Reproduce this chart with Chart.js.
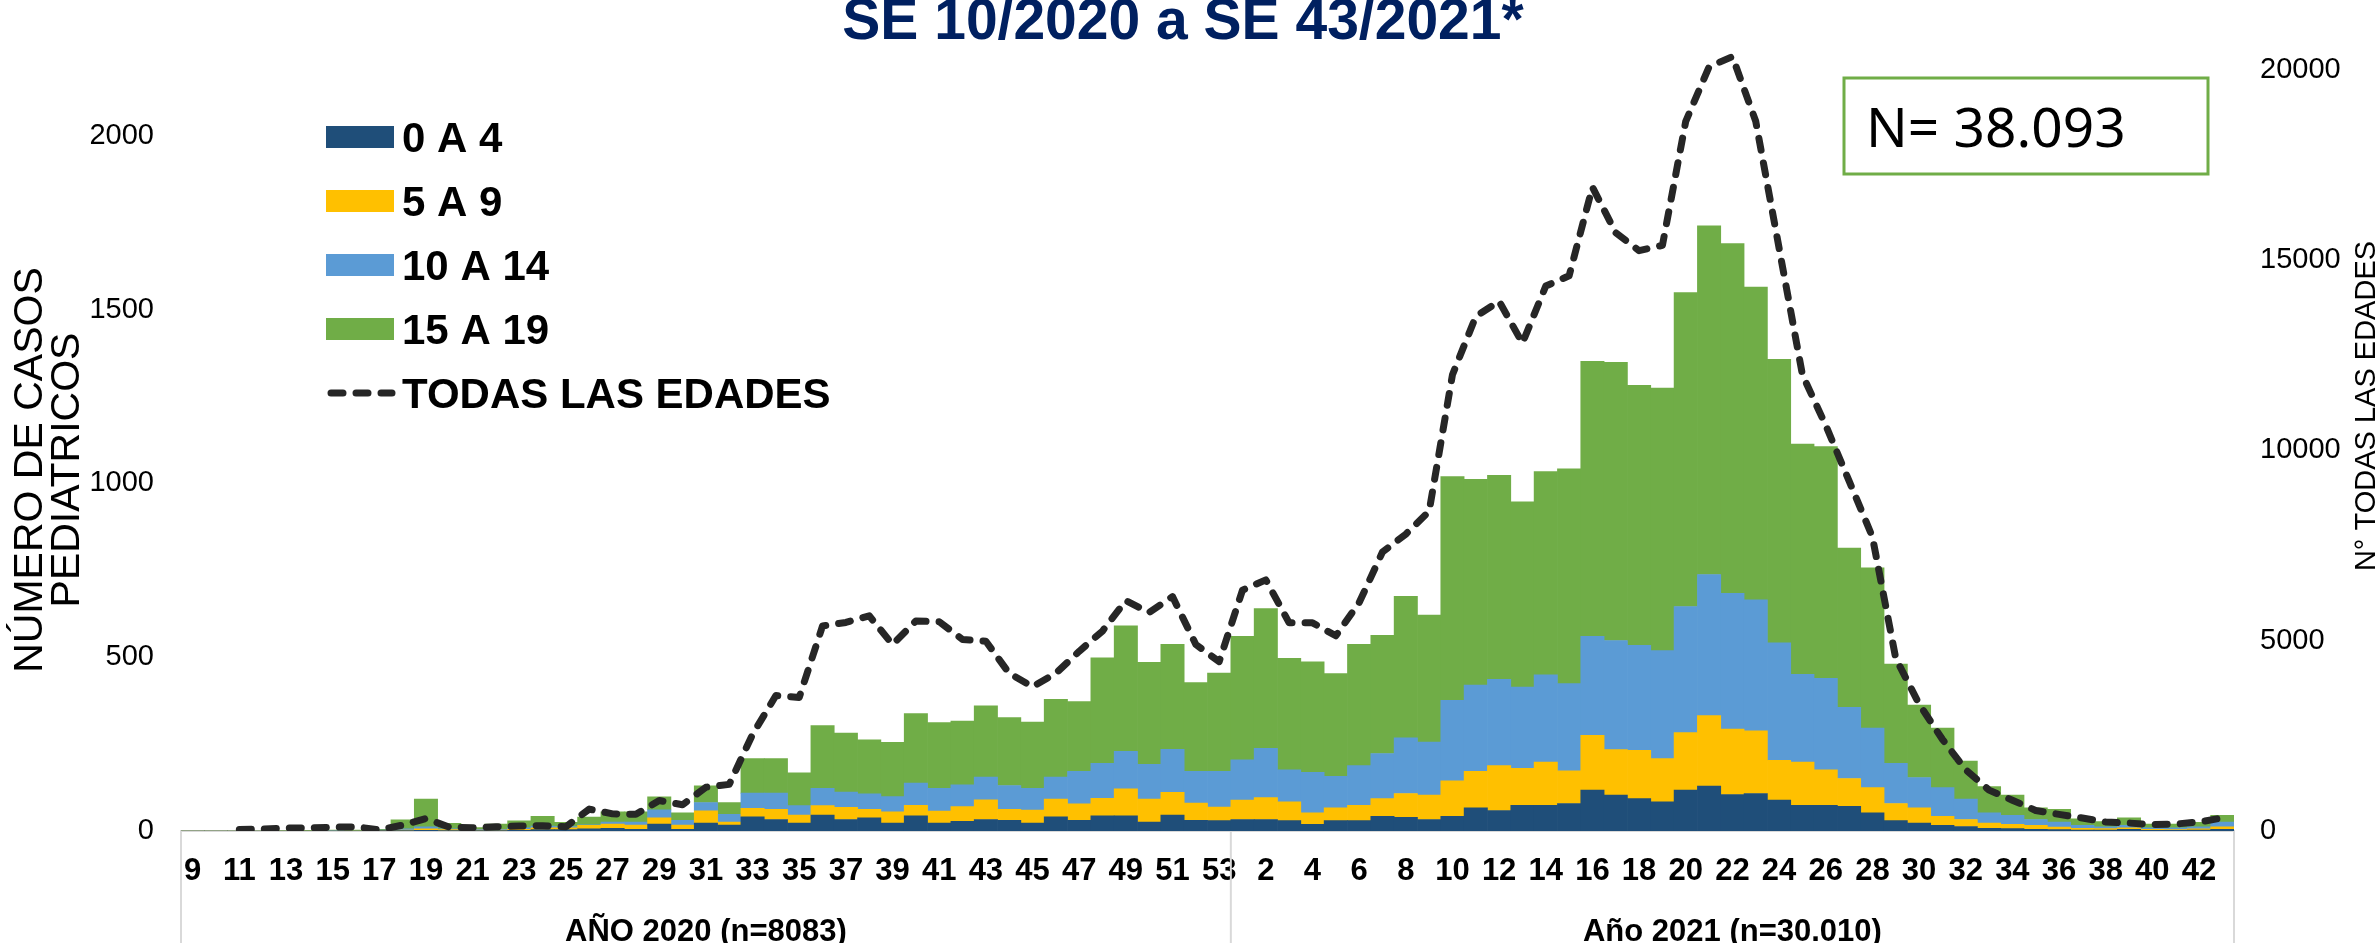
<!DOCTYPE html>
<html><head><meta charset="utf-8">
<script src="https://cdn.jsdelivr.net/npm/chart.js@4.4.1/dist/chart.umd.min.js"></script>
<style>html,body{margin:0;padding:0;background:#fff;overflow:hidden}canvas{display:block}</style>
</head><body>
<canvas id="c" width="2377" height="943" style="width:2377px;height:943px"></canvas>
<script>
const weeks = ['9','10','11','12','13','14','15','16','17','18','19','20','21','22','23','24','25','26','27','28','29','30','31','32','33','34','35','36','37','38','39','40','41','42','43','44','45','46','47','48','49','50','51','52','53',
  '1','2','3','4','5','6','7','8','9','10','11','12','13','14','15','16','17','18','19','20','21','22','23','24','25','26','27','28','29','30','31','32','33','34','35','36','37','38','39','40','41','42','43'];
const groupNames = ['AÑO 2020 (n=8083)', 'Año 2021 (n=30.010)'];
const groupSizes = [45, 43];

const age0_4 = [0,0,0,0,0,0,0,0,1,1,2,1,1,1,2,4,4,6,8,5,20,5,23,17,41,33,23,46,33,38,23,44,23,28,33,31,23,41,31,44,44,26,46,31,30,
  33,33,30,19,30,30,42,39,33,42,67,59,74,74,79,118,103,93,84,118,129,105,108,89,74,74,71,52,30,23,16,13,8,7,5,4,3,3,5,2,2,3,5];
const age5_9 = [0,0,0,0,0,0,0,0,1,2,4,3,2,2,3,5,5,10,12,12,18,12,35,9,24,29,23,27,35,24,32,30,34,42,57,31,37,51,47,50,77,66,65,49,39,
  56,63,54,33,37,44,51,69,70,102,105,129,106,124,94,157,131,139,124,165,203,188,180,114,124,102,80,73,49,44,26,20,15,12,11,7,5,4,4,3,2,3,7];
const age10_14 = [0,0,0,0,0,0,1,0,1,3,6,2,2,2,4,5,4,2,6,9,23,14,24,22,44,47,27,50,44,45,44,64,66,63,65,69,63,63,94,101,108,100,124,92,103,
  116,142,92,117,90,114,130,160,153,232,248,248,234,251,251,285,314,302,311,363,406,391,377,338,253,263,205,171,116,87,83,59,29,26,17,15,8,5,7,4,5,6,14];
const age15_19 = [0,0,0,0,1,2,2,3,2,26,80,16,5,15,20,28,12,22,29,29,37,21,48,34,99,99,94,180,170,155,156,200,189,183,205,195,190,224,200,303,361,293,302,255,282,
  355,402,321,318,296,349,340,407,365,644,592,587,533,585,618,791,800,748,755,903,1003,1006,900,816,662,667,458,461,285,208,171,109,76,58,34,36,19,15,22,11,11,13,19];
const todasEdades = [null,null,40,50,80,80,100,110,30,155,326,100,86,112,129,140,112,575,450,440,800,690,1150,1225,2540,3560,3510,5390,5480,5655,4900,5520,5500,5034,4987,4144,3789,4144,4722,5255,6054,5742,6160,4900,4450,
  6330,6600,5470,5470,5130,6000,7330,7800,8400,11990,13520,13920,12820,14320,14590,16920,15720,15250,15390,18650,20080,20350,18650,15320,11990,10660,9200,7730,4540,3340,2410,1610,1075,810,540,436,343,237,209,170,183,237,343];

const leftTicks = [0, 500, 1000, 1500, 2000];
const rightTicks = [0, 5000, 10000, 15000, 20000];

const FONT = "'Liberation Sans', Arial, sans-serif";
const C_DARK = '#1F4E79', C_YEL = '#FFC000', C_LBLUE = '#5B9BD5', C_GREEN = '#70AD47', C_LINE = '#262626';
const DASH = [12, 13];

const decor = {
  id: 'decor',
  afterDraw(chart) {
    const ctx = chart.ctx, x = chart.scales.x, area = chart.chartArea;
    ctx.save();
    // Title (cut at top)
    ctx.fillStyle = '#002060';
    ctx.font = `bold 57px ${FONT}`;
    ctx.textAlign = 'center'; ctx.textBaseline = 'alphabetic';
    ctx.fillText('SE 10/2020 a SE 43/2021*', 1183, 39);

    // group separators & labels
    ctx.strokeStyle = '#D9D9D9'; ctx.lineWidth = 2;
    let start = 0;
    const bounds = [area.left];
    groupSizes.forEach((n) => {
      const end = start + n - 1;
      const right = end === weeks.length - 1 ? area.right : (x.getPixelForValue(end) + x.getPixelForValue(end + 1)) / 2;
      bounds.push(right);
      start += n;
    });
    bounds.forEach(b => { ctx.beginPath(); ctx.moveTo(b, area.bottom); ctx.lineTo(b, chart.height); ctx.stroke(); });
    ctx.fillStyle = '#000';
    ctx.font = `bold 31px ${FONT}`;
    ctx.textAlign = 'center';
    groupNames.forEach((g, i) => ctx.fillText(g, (bounds[i] + bounds[i + 1]) / 2, 941));

    // Left axis title
    ctx.font = `41px ${FONT}`;
    ctx.fillStyle = '#000';
    ctx.save();
    ctx.translate(42, 470); ctx.rotate(-Math.PI / 2);
    ctx.textAlign = 'center'; ctx.fillText('NÚMERO DE CASOS', 0, 0);
    ctx.restore();
    ctx.save();
    ctx.translate(79, 470); ctx.rotate(-Math.PI / 2);
    ctx.textAlign = 'center'; ctx.fillText('PEDIATRICOS', 0, 0);
    ctx.restore();
    // Right axis title
    ctx.font = `29px ${FONT}`;
    ctx.save();
    ctx.translate(2375, 406); ctx.rotate(-Math.PI / 2);
    ctx.textAlign = 'center'; ctx.fillText('N° TODAS LAS EDADES', 0, 0);
    ctx.restore();

    // Legend
    const order = [1, 2, 3, 4, 0].map(i => chart.data.datasets[i]);
    ctx.font = `bold 42px ${FONT}`;
    ctx.textAlign = 'left';
    const ys = [137, 201, 265, 329, 393];
    order.forEach((ds, i) => {
      const cy = ys[i];
      if (ds.type === 'line') {
        ctx.save();
        ctx.strokeStyle = ds.borderColor; ctx.lineWidth = 7; ctx.lineCap = 'round';
        ctx.setLineDash(DASH);
        ctx.beginPath(); ctx.moveTo(331, cy); ctx.lineTo(392, cy); ctx.stroke();
        ctx.restore();
      } else {
        ctx.fillStyle = ds.backgroundColor;
        ctx.fillRect(326, cy - 11, 68, 22);
      }
      ctx.fillStyle = '#000';
      ctx.fillText(ds.label, 402, cy + 15);
    });

    // N box
    ctx.fillStyle = '#fff';
    ctx.fillRect(1844, 78, 364, 96);
    ctx.strokeStyle = C_GREEN; ctx.lineWidth = 3;
    ctx.strokeRect(1844, 78, 364, 96);
    ctx.fillStyle = '#000';
    ctx.font = `55px 'Noto Sans', 'Open Sans', sans-serif`;
    ctx.fillText('N= 38.093', 1866, 147);
    ctx.restore();
  }
};

new Chart(document.getElementById('c'), {
  data: {
    labels: weeks,
    datasets: [
      { type: 'line', label: 'TODAS LAS EDADES', data: todasEdades, yAxisID: 'y2', borderColor: C_LINE, borderWidth: 7,
        borderDash: DASH, borderCapStyle: 'round', borderJoinStyle: 'round', pointRadius: 0, tension: 0, order: 0, fill: false },
      { type: 'bar', label: '0 A 4', data: age0_4, backgroundColor: C_DARK, yAxisID: 'y', order: 1 },
      { type: 'bar', label: '5 A 9', data: age5_9, backgroundColor: C_YEL, yAxisID: 'y', order: 1 },
      { type: 'bar', label: '10 A 14', data: age10_14, backgroundColor: C_LBLUE, yAxisID: 'y', order: 1 },
      { type: 'bar', label: '15 A 19', data: age15_19, backgroundColor: C_GREEN, yAxisID: 'y', order: 1 }
    ]
  },
  options: {
    responsive: false, animation: false, devicePixelRatio: 1,
    datasets: { bar: { categoryPercentage: 1, barPercentage: 1, borderWidth: 0 } },
    layout: { padding: { top: 30, left: 0, right: 0, bottom: 0 } },
    plugins: { legend: { display: false }, tooltip: { enabled: false }, title: { display: false } },
    scales: {
      x: {
        stacked: true,
        grid: { display: false, drawTicks: false },
        border: { display: true, color: '#D9D9D9', width: 2 },
        ticks: { autoSkip: false, maxRotation: 0, minRotation: 0, padding: 22, color: '#000',
          font: { family: FONT, size: 31, weight: 'bold' },
          callback: (v, i) => (i % 2 === 0 ? weeks[i] : '') },
        afterFit: s => { s.height = 112; }
      },
      y: {
        stacked: true, position: 'left', min: 0, max: 2263,
        grid: { display: false, drawTicks: false }, border: { display: false },
        ticks: { padding: 27, color: '#000', font: { family: FONT, size: 29 }, callback: v => String(v) },
        afterBuildTicks: s => { s.ticks = leftTicks.map(v => ({ value: v })); },
        afterFit: s => { s.width = 181; }
      },
      y2: {
        stacked: false, position: 'right', min: 0, max: 20670,
        grid: { display: false, drawTicks: false }, border: { display: false },
        ticks: { padding: 26, color: '#000', font: { family: FONT, size: 29 }, callback: v => String(v) },
        afterBuildTicks: s => { s.ticks = rightTicks.map(v => ({ value: v })); },
        afterFit: s => { s.width = 143; }
      }
    }
  },
  plugins: [decor]
});
</script>
</body></html>
